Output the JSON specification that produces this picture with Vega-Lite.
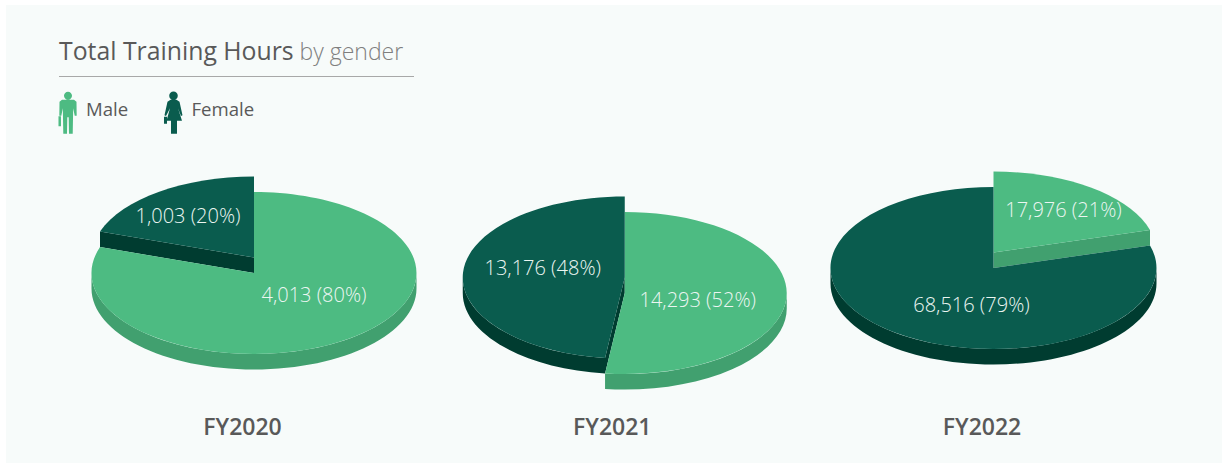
{
"$schema":"https://vega.github.io/schema/vega-lite/v6.json",
"width":1216,"height":458,"autosize":"none",
"padding":{"left":6,"top":5,"right":7,"bottom":0},
"background":"white",
"config":{"view":{"fill":"#f7fbfa","stroke":null},"font":"Open Sans"},
"title":{"text":"Total Training Hours","anchor":"start","frame":"group","dx":53,"dy":63.5,"fontSize":24.8,"fontWeight":400,"color":"#595959","font":"Open Sans"},
"data":{"values":[
{"year":"FY2020","gender":"Male","hours":4013,"share":80},
{"year":"FY2020","gender":"Female","hours":1003,"share":20},
{"year":"FY2021","gender":"Male","hours":14293,"share":52},
{"year":"FY2021","gender":"Female","hours":13176,"share":48},
{"year":"FY2022","gender":"Male","hours":17976,"share":21},
{"year":"FY2022","gender":"Female","hours":68516,"share":79}
]},
"layer":[
{"data":{"values":[{"part":"divider"}]},
 "mark":{"type":"rule","stroke":"#a8a8a8","strokeWidth":1},
 "encoding":{
  "x":{"datum":0,"type":"quantitative","scale":{"domain":[0,1],"range":[53,408]},"axis":null},
  "x2":{"datum":1},
  "y":{"datum":0,"type":"quantitative","scale":{"domain":[0,1],"range":[71.5,71.5]},"axis":null}
 }},
{"transform":[
  {"calculate":"datum.year+' '+datum.gender","as":"slice"},
  {"calculate":"format(datum.hours,',')+' ('+datum.share+'%)'","as":"label"}
 ],
 "encoding":{"x":{"field":"year","type":"nominal","scale":{"type":"point","domain":["FY2020","FY2021","FY2022"],"range":[248,987.5],"padding":0},
   "axis":{"title":"by gender","titleX":293,"titleY":-368,"titleAlign":"left","titleBaseline":"alphabetic","titleFontSize":23,"titleFontWeight":300,"titleColor":"#7f7f7f","titleFont":"Open Sans","offset":-36,"domain":false,"ticks":false,"labelAngle":0,"labelOffset":-12,"labelFontSize":23,"labelFontWeight":600,"labelColor":"#595959","labelFont":"Open Sans","labelPadding":0,"labelBaseline":"middle","grid":false}}},
 "layer":[
 {"mark":{"type":"point","filled":true,"opacity":1,"size":40000,"strokeWidth":0},
  "encoding":{
   "color":{"field":"gender","type":"nominal","scale":{"domain":["Male","Female"],"range":["#41a06f","#003c30"]},"legend":null},
   "shape":{"field":"slice","type":"nominal","legend":null,"scale":{"domain":["FY2020 Male","FY2020 Female","FY2021 Male","FY2021 Female","FY2022 Male","FY2022 Female"],"range":[
    "M1.625,.39 A1.625,.81 0 1 1 -1.625,.39 L-1.625,.545 A1.625,.81 0 1 0 1.625,.545 Z",
    "M-1.54,-.024 L0,.235 L0,.39 L-1.54,.131 Z",
    "M1.63,.59 A1.62,.81 0 0 1 -.187,1.394 L-.187,1.549 A1.62,.81 0 0 0 1.63,.745 Z",
    "M-1.61,.435 A1.62,.81 0 0 0 -.187,1.239 L-.187,1.394 A1.62,.81 0 0 1 -1.61,.59 Z M-.187,1.239 L.01,.435 L.01,.59 L-.187,1.394 Z",
    "M1.565,-.041 L0,.185 L0,.34 L1.565,.114 Z",
    "M1.63,.34 A1.63,.81 0 1 1 -1.63,.34 L-1.63,.495 A1.63,.81 0 1 0 1.63,.495 Z"
   ]}}
  }},
 {"mark":{"type":"point","filled":true,"opacity":1,"size":40000,"strokeWidth":0},
  "encoding":{
   "color":{"field":"gender","type":"nominal","scale":{"domain":["Male","Female"],"range":["#4dbb82","#0a5c4e"]},"legend":null},
   "shape":{"field":"slice","type":"nominal","legend":null,"scale":{"domain":["FY2020 Male","FY2020 Female","FY2021 Male","FY2021 Female","FY2022 Male","FY2022 Female"],"range":[
    "M0,.39 L0,-.42 A1.625,.81 0 1 1 -1.54,.131 Z",
    "M0,.235 L0,-.575 A1.625,.81 0 0 0 -1.54,-.024 Z",
    "M.01,.59 L.01,-.22 A1.62,.81 0 1 1 -.187,1.394 Z",
    "M.01,.435 L.01,-.375 A1.62,.81 0 0 0 -.187,1.239 Z",
    "M0,.185 L0,-.625 A1.63,.81 0 0 1 1.565,-.041 Z",
    "M0,.34 L1.565,.114 A1.63,.81 0 1 1 0,-.47 Z"
   ]}}
  }},
 {"mark":{"type":"point","filled":true,"opacity":1,"size":0,"strokeWidth":0},
  "encoding":{
   "color":{"field":"gender","type":"nominal","scale":{"domain":["Male","Female"],"range":["#4dbb82","#0a5c4e"]},
     "legend":{"title":null,"orient":"none","legendX":40,"legendY":83,"direction":"horizontal","columns":2,"symbolSize":1936,"symbolStrokeWidth":0,"labelFontSize":18.6,"labelColor":"#595959","labelFont":"Open Sans","labelOffset":-4,"columnPadding":22.5,"padding":0}},
   "shape":{"field":"gender","type":"nominal","scale":{"domain":["Male","Female"],"range":[
     "M-.182,-.66 A.182,.182 0 1 1 .182,-.66 A.182,.182 0 1 1 -.182,-.66 Z M-.273,-.479 L.273,-.479 L.386,-.388 L.395,.249 L.305,.249 L.236,-.092 L.214,1.067 L.045,1.067 L.032,.317 L-.032,.317 L-.045,1.067 L-.214,1.067 L-.236,-.092 L-.305,.249 L-.395,.249 L-.386,-.388 Z M-.432,.271 L-.32,.271 L-.32,.726 L-.432,.726 Z",
     "M-.195,-.66 A.195,.195 0 1 1 .195,-.66 A.195,.195 0 1 1 -.195,-.66 Z M-.136,-.479 L.136,-.479 L.273,-.388 L.409,.226 L.341,.262 L.205,-.092 L.386,.476 L.159,.476 L.159,1.067 L-.114,1.067 L-.114,.476 L-.318,.476 L-.159,-.092 L-.341,.262 L-.409,.226 L-.273,-.388 Z M-.432,.294 L-.295,.294 L-.295,.612 L-.432,.612 Z"
   ]},
     "legend":{"title":null,"orient":"none","legendX":40,"legendY":83,"direction":"horizontal","columns":2,"symbolSize":1936,"symbolStrokeWidth":0,"labelFontSize":18.6,"labelColor":"#595959","labelFont":"Open Sans","labelOffset":-4,"columnPadding":22.5,"padding":0}}
  }},
 {"transform":[{"filter":"datum.slice==='FY2020 Male'"}],"mark":{"type":"text","dx":60,"dy":62,"fontSize":20,"fontWeight":300,"color":"#ecf6f2"},"encoding":{"text":{"field":"label"}}},
 {"transform":[{"filter":"datum.slice==='FY2020 Female'"}],"mark":{"type":"text","dx":-66,"dy":-17,"fontSize":20,"fontWeight":300,"color":"#ecf6f2"},"encoding":{"text":{"field":"label"}}},
 {"transform":[{"filter":"datum.slice==='FY2021 Male'"}],"mark":{"type":"text","dx":74,"dy":67,"fontSize":20,"fontWeight":300,"color":"#ecf6f2"},"encoding":{"text":{"field":"label"}}},
 {"transform":[{"filter":"datum.slice==='FY2021 Female'"}],"mark":{"type":"text","dx":-81,"dy":35,"fontSize":20,"fontWeight":300,"color":"#ecf6f2"},"encoding":{"text":{"field":"label"}}},
 {"transform":[{"filter":"datum.slice==='FY2022 Male'"}],"mark":{"type":"text","dx":70,"dy":-23,"fontSize":20,"fontWeight":300,"color":"#ecf6f2"},"encoding":{"text":{"field":"label"}}},
 {"transform":[{"filter":"datum.slice==='FY2022 Female'"}],"mark":{"type":"text","dx":-22,"dy":72,"fontSize":20,"fontWeight":300,"color":"#ecf6f2"},"encoding":{"text":{"field":"label"}}}
 ],
 "resolve":{"scale":{"color":"independent","shape":"independent"}}
}
],
"resolve":{"scale":{"x":"independent","y":"independent"}}
}
